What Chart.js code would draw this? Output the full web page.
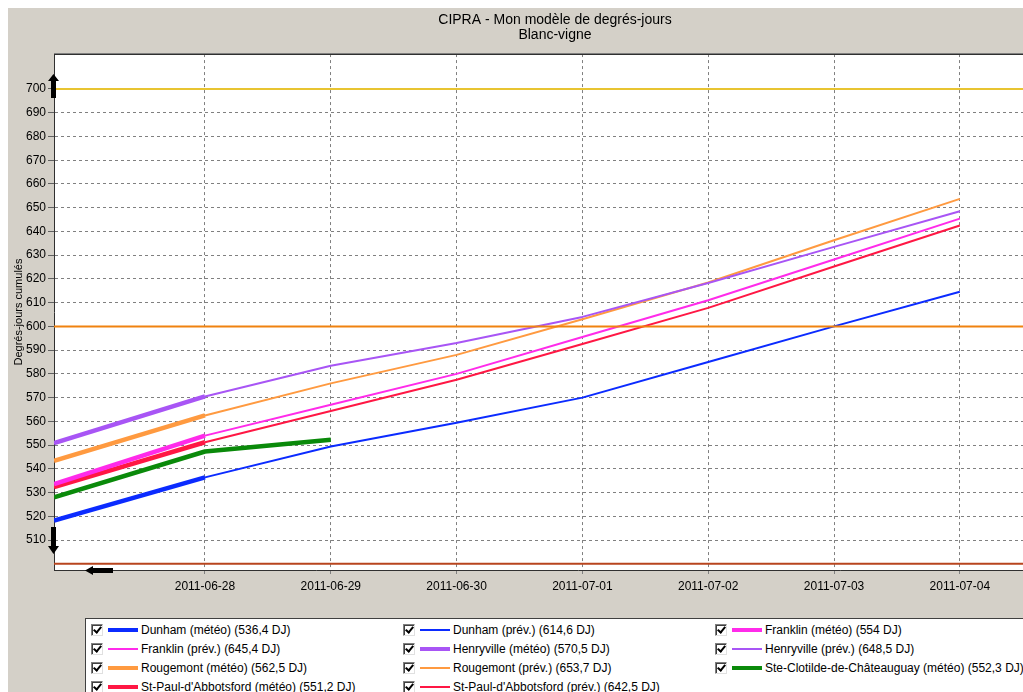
<!DOCTYPE html>
<html lang="fr">
<head>
<meta charset="UTF-8">
<title>CIPRA - Mon modèle de degrés-jours</title>
<script src="https://cdn.jsdelivr.net/npm/chart.js@4.4.0/dist/chart.umd.min.js"></script>
<style>
    body {
        margin: 0;
        background: #fff;
        overflow: hidden;
        font-family: "Liberation Sans", Arial, sans-serif;
    }
    #panel {
        position: absolute;
        left: 8px;
        top: 8px;
        width: 1100px;
        height: 700px;
        background: #d4d0c8;
    }
    #chart { display: block; }
    #legend {
        position: absolute;
        left: 77px;
        top: 610px;
        right: 0;
        bottom: 0;
        background: #fff;
        border-top: 1px solid #404040;
        border-left: 1px solid #404040;
        padding: 1px 0 0 5px;
        display: grid;
        grid-template-columns: 312px 312px 312px;
        grid-auto-rows: 19px;
        font-size: 12px;
        color: #000;
    }
    .item {
        display: flex;
        align-items: center;
        white-space: nowrap;
    }
    .cb {
        position: relative;
        width: 12px;
        height: 12px;
        box-sizing: border-box;
        border: 1px solid;
        border-color: #808080 #e0e0e0 #e0e0e0 #808080;
        box-shadow: inset 1px 1px 0 #404040;
        background: #fff;
    }
    .cb::after {
        content: '';
        position: absolute;
        left: 3px;
        top: 0px;
        width: 3px;
        height: 6px;
        border: solid #000;
        border-width: 0 2px 2px 0;
        transform: rotate(40deg);
    }
    .sample {
        width: 30px;
        margin: 0 3px 0 5px;
    }
</style>
</head>
<body>
<div id="panel">
    <canvas id="chart" width="1094" height="610"></canvas>
    <div id="legend"></div>
</div>

<script>
    // axe des x : jours à partir du 2011-06-28
    const dates = ['2011-06-28', '2011-06-29', '2011-06-30', '2011-07-01', '2011-07-02', '2011-07-03', '2011-07-04'];
    const xMin = -1.2;
    const xMax = 7.13;
    const yMin = 497.4;
    const yMax = 714.7;
    const yTicks = [510, 520, 530, 540, 550, 560, 570, 580, 590, 600, 610, 620, 630, 640, 650, 660, 670, 680, 690, 700];
    const seuils = [700, 600, 500];

    const meteoX = [-1.2, 0];
    const steClotildeX = [-1.2, 0, 1];
    const prevX = [0, 1, 2, 3, 4, 5, 6];

    const dunhamMeteo = [518.2, 536.4];
    const dunhamPrev = [536.4, 549.4, 559.4, 570, 585, 600, 614.6];
    const franklinMeteo = [533.6, 554];
    const franklinPrev = [554, 567, 580, 595.5, 611, 628.2, 645.4];
    const henryvilleMeteo = [550.8, 570.5];
    const henryvillePrev = [570.5, 583.4, 593, 604, 618.3, 633.5, 648.5];
    const rougemontMeteo = [543.4, 562.5];
    const rougemontPrev = [562.5, 576, 588, 603, 618.5, 636.3, 653.7];
    const steClotildeMeteo = [528, 547.3, 552.3];
    const stPaulMeteo = [532.3, 551.2];
    const stPaulPrev = [551.2, 564.4, 577.5, 592.6, 607.8, 625.2, 642.5];

    const couleurs = {
        dunham: '#0b2bff',
        franklin: '#ff2bea',
        henryville: '#a855f5',
        rougemont: '#ff9a40',
        steClotilde: '#0a8a0a',
        stPaul: '#ff1744'
    };
    const couleursSeuils = ['#e8c431', '#f0820f', '#b8451e'];

    const series = [
        { label: 'Dunham (météo)', x: meteoX, y: dunhamMeteo, color: couleurs.dunham, meteo: true },
        { label: 'Dunham (prév.)', x: prevX, y: dunhamPrev, color: couleurs.dunham, meteo: false },
        { label: 'Franklin (météo)', x: meteoX, y: franklinMeteo, color: couleurs.franklin, meteo: true },
        { label: 'Franklin (prév.)', x: prevX, y: franklinPrev, color: couleurs.franklin, meteo: false },
        { label: 'Henryville (météo)', x: meteoX, y: henryvilleMeteo, color: couleurs.henryville, meteo: true },
        { label: 'Henryville (prév.)', x: prevX, y: henryvillePrev, color: couleurs.henryville, meteo: false },
        { label: 'Rougemont (météo)', x: meteoX, y: rougemontMeteo, color: couleurs.rougemont, meteo: true },
        { label: 'Rougemont (prév.)', x: prevX, y: rougemontPrev, color: couleurs.rougemont, meteo: false },
        { label: 'Ste-Clotilde-de-Châteauguay (météo)', x: steClotildeX, y: steClotildeMeteo, color: couleurs.steClotilde, meteo: true },
        { label: "St-Paul-d'Abbotsford (météo)", x: meteoX, y: stPaulMeteo, color: couleurs.stPaul, meteo: true },
        { label: "St-Paul-d'Abbotsford (prév.)", x: prevX, y: stPaulPrev, color: couleurs.stPaul, meteo: false }
    ];

    function libelle(s) {
        const total = s.y[s.y.length - 1];
        return `${s.label} (${String(total).replace('.', ',')} DJ)`;
    }

    const datasets = series.map(s => ({
        label: libelle(s),
        data: s.x.map((x, i) => ({ x: x, y: s.y[i] })),
        borderColor: s.color,
        borderWidth: s.meteo ? 4.5 : 2,
        borderJoinStyle: 'round',
        pointRadius: 0,
        tension: 0,
        fill: false
    }));

    seuils.forEach((v, i) => {
        datasets.push({
            label: 'seuil ' + v,
            data: [{ x: xMin, y: v }, { x: xMax, y: v }],
            borderColor: couleursSeuils[i],
            borderWidth: 2,
            pointRadius: 0,
            order: -1
        });
    });

    function fleche(ctx, pts) {
        ctx.beginPath();
        ctx.moveTo(pts[0][0], pts[0][1]);
        pts.slice(1).forEach(p => ctx.lineTo(p[0], p[1]));
        ctx.closePath();
        ctx.fill();
    }

    const cadre = {
        id: 'cadre',
        beforeDraw(chart) {
            const { ctx, chartArea: a } = chart;
            ctx.save();
            ctx.fillStyle = '#fff';
            ctx.fillRect(a.left, a.top, a.right - a.left, a.bottom - a.top);
            ctx.restore();
        },
        afterDraw(chart) {
            const { ctx, chartArea: a } = chart;
            const top = Math.round(a.top);
            const bottom = Math.round(a.bottom);
            const left = Math.round(a.left);
            ctx.save();
            ctx.fillStyle = '#808080';
            ctx.fillRect(a.left, top - 1, a.right - a.left, 1);
            ctx.fillStyle = '#303030';
            ctx.fillRect(a.left, top, a.right - a.left, 1);

            // flèches de défilement
            ctx.fillStyle = '#000';
            const cx = left - 0.5;
            fleche(ctx, [[cx, top + 20], [cx + 5.5, top + 27], [cx + 2.5, top + 27], [cx + 2.5, top + 44],
                         [cx - 2.5, top + 44], [cx - 2.5, top + 27], [cx - 5.5, top + 27]]);
            fleche(ctx, [[cx, bottom - 16], [cx + 5.5, bottom - 24], [cx + 2.5, bottom - 24], [cx + 2.5, bottom - 43],
                         [cx - 2.5, bottom - 43], [cx - 2.5, bottom - 24], [cx - 5.5, bottom - 24]]);
            const cy = bottom + 0.5;
            fleche(ctx, [[left + 31, cy], [left + 39, cy - 4.5], [left + 39, cy - 2.5], [left + 59, cy - 2.5],
                         [left + 59, cy + 2.5], [left + 39, cy + 2.5], [left + 39, cy + 4.5]]);
            ctx.restore();
        }
    };

    Chart.defaults.font.family = '"Liberation Sans", Arial, sans-serif';
    Chart.defaults.color = '#000';

    new Chart(document.getElementById('chart'), {
        type: 'line',
        data: { datasets: datasets },
        plugins: [cadre],
        options: {
            responsive: false,
            animation: false,
            layout: { padding: 0 },
            plugins: {
                legend: { display: false },
                tooltip: { enabled: false },
                title: {
                    display: true,
                    text: ['CIPRA - Mon modèle de degrés-jours', 'Blanc-vigne'],
                    color: '#000',
                    font: { size: 14, weight: 'normal', lineHeight: 1.02 },
                    padding: { top: 5.5, bottom: 12 }
                }
            },
            scales: {
                x: {
                    type: 'linear',
                    min: xMin,
                    max: xMax,
                    afterBuildTicks: s => { s.ticks = dates.map((d, i) => ({ value: i })); },
                    afterFit: s => { s.height = 48; },
                    ticks: {
                        callback: v => dates[v] || '',
                        font: { size: 12 },
                        color: '#000',
                        padding: 5,
                        maxRotation: 0,
                        autoSkip: false
                    },
                    grid: { color: '#808080', tickLength: 4, tickColor: '#808080', tickBorderDash: [3, 3] },
                    border: { color: '#303030', width: 1, dash: [3, 3] }
                },
                y: {
                    min: yMin,
                    max: yMax,
                    afterBuildTicks: s => { s.ticks = yTicks.map(v => ({ value: v })); },
                    afterFit: s => { s.width = 46; },
                    ticks: { font: { size: 12 }, color: '#000', padding: 2 },
                    grid: { color: '#808080', tickLength: 6, tickColor: '#606060', tickBorderDash: [] },
                    border: { color: '#303030', width: 1, dash: [3, 3] },
                    title: {
                        display: true,
                        text: 'Degrés-jours cumulés',
                        color: '#000',
                        font: { size: 11 },
                        padding: { top: 4, bottom: 0 }
                    }
                }
            }
        }
    });

    // légende avec cases à cocher
    const legend = document.getElementById('legend');
    series.forEach(s => {
        const item = document.createElement('div');
        item.className = 'item';
        item.innerHTML = `<span class="cb"></span><span class="sample" style="height:${s.meteo ? 4 : 2}px;background:${s.color}"></span><span>${libelle(s)}</span>`;
        legend.appendChild(item);
    });
</script>
</body>
</html>
